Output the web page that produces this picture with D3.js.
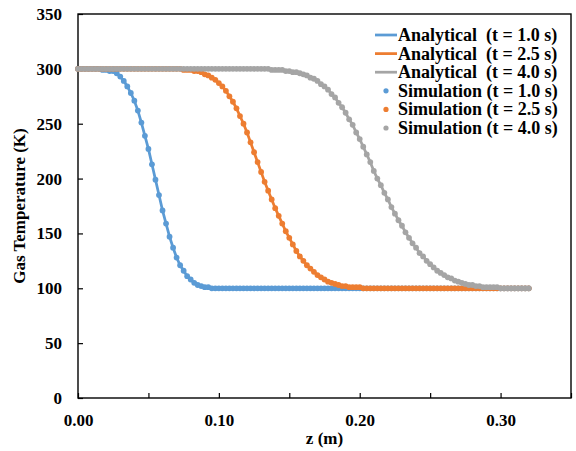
<!DOCTYPE html>
<html>
<head>
<meta charset="utf-8">
<title>Gas Temperature</title>
<script src="https://d3js.org/d3.v7.min.js"></script>
<style>
  body { margin: 0; background: #fff; }
  text { font-family: "Liberation Serif", "Times New Roman", serif; font-weight: bold; fill: #000; }
  .legend text { white-space: pre; }
</style>
</head>
<body>
<div id="chart"></div>
<script>
// z positions (m), same grid for the analytical curves and the simulation points
const zValues = [
  0, 0.0025, 0.005, 0.0075, 0.01, 0.0125, 0.015, 0.0175, 0.02, 0.0225,
  0.025, 0.0275, 0.03, 0.0325, 0.035, 0.0375, 0.04, 0.0425, 0.045, 0.0475,
  0.05, 0.0525, 0.055, 0.0575, 0.06, 0.0625, 0.065, 0.0675, 0.07, 0.0725,
  0.075, 0.0775, 0.08, 0.0825, 0.085, 0.0875, 0.09, 0.0925, 0.095, 0.0975,
  0.1, 0.1025, 0.105, 0.1075, 0.11, 0.1125, 0.115, 0.1175, 0.12, 0.1225,
  0.125, 0.1275, 0.13, 0.1325, 0.135, 0.1375, 0.14, 0.1425, 0.145, 0.1475,
  0.15, 0.1525, 0.155, 0.1575, 0.16, 0.1625, 0.165, 0.1675, 0.17, 0.1725,
  0.175, 0.1775, 0.18, 0.1825, 0.185, 0.1875, 0.19, 0.1925, 0.195, 0.1975,
  0.2, 0.2025, 0.205, 0.2075, 0.21, 0.2125, 0.215, 0.2175, 0.22, 0.2225,
  0.225, 0.2275, 0.23, 0.2325, 0.235, 0.2375, 0.24, 0.2425, 0.245, 0.2475,
  0.25, 0.2525, 0.255, 0.2575, 0.26, 0.2625, 0.265, 0.2675, 0.27, 0.2725,
  0.275, 0.2775, 0.28, 0.2825, 0.285, 0.2875, 0.29, 0.2925, 0.295, 0.2975,
  0.3, 0.3025, 0.305, 0.3075, 0.31, 0.3125, 0.315, 0.3175, 0.32
];

// gas temperature (K) at t = 1.0 s
const temp10 = [
  300, 300, 300, 300, 300, 300, 300, 299, 299, 298,
  298, 296, 293, 289, 284, 278, 271, 262, 251, 239,
  227, 213, 199, 185, 171, 159, 147, 137, 128, 121,
  116, 111, 108, 105, 103, 102, 101, 101, 100, 100,
  100, 100, 100, 100, 100, 100, 100, 100, 100, 100,
  100, 100, 100, 100, 100, 100, 100, 100, 100, 100,
  100, 100, 100, 100, 100, 100, 100, 100, 100, 100,
  100, 100, 100, 100, 100, 100, 100, 100, 100, 100,
  100, 100, 100, 100, 100, 100, 100, 100, 100, 100,
  100, 100, 100, 100, 100, 100, 100, 100, 100, 100,
  100, 100, 100, 100, 100, 100, 100, 100, 100, 100,
  100, 100, 100, 100, 100, 100, 100, 100, 100, 100,
  100, 100, 100, 100, 100, 100, 100, 100, 100
];

// gas temperature (K) at t = 2.5 s
const temp25 = [
  300, 300, 300, 300, 300, 300, 300, 300, 300, 300,
  300, 300, 300, 300, 300, 300, 300, 300, 300, 300,
  300, 300, 300, 300, 300, 300, 300, 300, 300, 300,
  299, 299, 299, 298, 298, 297, 295, 294, 292, 290,
  287, 284, 280, 275, 270, 264, 257, 250, 242, 233,
  224, 215, 206, 197, 189, 181, 173, 166, 159, 152,
  146, 140, 134, 129, 125, 121, 118, 115, 112, 110,
  108, 106, 105, 104, 103, 102, 102, 101, 101, 101,
  101, 100, 100, 100, 100, 100, 100, 100, 100, 100,
  100, 100, 100, 100, 100, 100, 100, 100, 100, 100,
  100, 100, 100, 100, 100, 100, 100, 100, 100, 100,
  100, 100, 100, 100, 100, 100, 100, 100, 100, 100,
  100, 100, 100, 100, 100, 100, 100, 100, 100
];

// gas temperature (K) at t = 4.0 s
const temp40 = [
  300, 300, 300, 300, 300, 300, 300, 300, 300, 300,
  300, 300, 300, 300, 300, 300, 300, 300, 300, 300,
  300, 300, 300, 300, 300, 300, 300, 300, 300, 300,
  300, 300, 300, 300, 300, 300, 300, 300, 300, 300,
  300, 300, 300, 300, 300, 300, 300, 300, 300, 300,
  300, 300, 300, 300, 300, 299, 299, 299, 299, 298,
  298, 297, 297, 296, 295, 294, 292, 291, 289, 286,
  284, 281, 277, 274, 269, 265, 260, 254, 249, 242,
  236, 229, 222, 215, 207, 200, 194, 187, 181, 174,
  168, 162, 157, 151, 146, 141, 137, 132, 129, 125,
  122, 119, 116, 114, 112, 110, 109, 107, 106, 105,
  104, 103, 103, 102, 102, 101, 101, 101, 101, 101,
  100, 100, 100, 100, 100, 100, 100, 100, 100
];

const timeSeries = [temp10, temp25, temp40];
const seriesColors = ["#5B9BD5", "#ED7D31", "#A5A5A5"];
const legendLabels = [
  "Analytical  (t = 1.0 s)", "Analytical  (t = 2.5 s)", "Analytical  (t = 4.0 s)",
  "Simulation (t = 1.0 s)", "Simulation (t = 2.5 s)", "Simulation (t = 4.0 s)"
];
const xTicks = [0, 0.05, 0.1, 0.15, 0.2, 0.25, 0.3, 0.35];
const yTicks = [0, 50, 100, 150, 200, 250, 300, 350];

const width = 576, height = 451;
const plot = {left: 78, right: 571, top: 14, bottom: 398};

const svg = d3.select("#chart").append("svg")
  .attr("width", width)
  .attr("height", height);

svg.append("rect").attr("width", width).attr("height", height).attr("fill", "#fff");

const x = d3.scaleLinear().domain([0, 0.35]).range([plot.left, plot.right]);
const y = d3.scaleLinear().domain([0, 350]).range([plot.bottom, plot.top]);

// axes, ticks pointing inward
const xAxis = svg.append("g")
  .attr("transform", `translate(0,${plot.bottom})`)
  .call(d3.axisBottom(x).tickValues(xTicks)
    .tickSizeInner(-5).tickSizeOuter(0).tickPadding(16)
    .tickFormat(d => Math.round(d * 100) % 10 === 0 ? d3.format(".2f")(d) : ""));

const yAxis = svg.append("g")
  .attr("transform", `translate(${plot.left},0)`)
  .call(d3.axisLeft(y).tickValues(yTicks)
    .tickSizeInner(-5).tickSizeOuter(0).tickPadding(16)
    .tickFormat(d3.format("d")));

[xAxis, yAxis].forEach(g => {
  g.select(".domain").remove();
  g.selectAll(".tick line").attr("stroke", "#000").attr("stroke-width", 1.2);
  g.selectAll(".tick text").style("font-size", "17px").style("font-family", null);
});

// plot frame
svg.append("rect")
  .attr("x", plot.left).attr("y", plot.top)
  .attr("width", plot.right - plot.left).attr("height", plot.bottom - plot.top)
  .attr("fill", "none").attr("stroke", "#000").attr("stroke-width", 1.4);

// axis titles
svg.append("text")
  .attr("x", (plot.left + plot.right) / 2).attr("y", 444)
  .attr("text-anchor", "middle").style("font-size", "17px")
  .text("z (m)");

svg.append("text")
  .attr("transform", `translate(25,${(plot.top + plot.bottom) / 2}) rotate(-90)`)
  .attr("text-anchor", "middle").style("font-size", "17px")
  .text("Gas Temperature (K)");

// analytical curves
const line = d3.line().x((d, i) => x(zValues[i])).y(d => y(d));
timeSeries.forEach((vals, k) => {
  svg.append("path")
    .datum(vals)
    .attr("fill", "none")
    .attr("stroke", seriesColors[k])
    .attr("stroke-width", 2.75)
    .attr("d", line);
});

// simulation points
timeSeries.forEach((vals, k) => {
  svg.append("g").selectAll("circle")
    .data(vals)
    .join("circle")
    .attr("cx", (d, i) => x(zValues[i]))
    .attr("cy", d => y(d))
    .attr("r", 2.9)
    .attr("fill", seriesColors[k]);
});

// legend
const legend = svg.append("g").attr("class", "legend");
legendLabels.forEach((label, i) => {
  const ly = 35 + i * 18.6;
  const color = seriesColors[i % 3];
  if (i < 3) {
    legend.append("line")
      .attr("x1", 375).attr("x2", 397).attr("y1", ly).attr("y2", ly)
      .attr("stroke", color).attr("stroke-width", 2.75);
  } else {
    legend.append("circle")
      .attr("cx", 386).attr("cy", ly).attr("r", 2.6).attr("fill", color);
  }
  legend.append("text")
    .attr("x", 398).attr("y", ly + 6)
    .style("font-size", "18px")
    .text(label);
});
</script>
</body>
</html>
